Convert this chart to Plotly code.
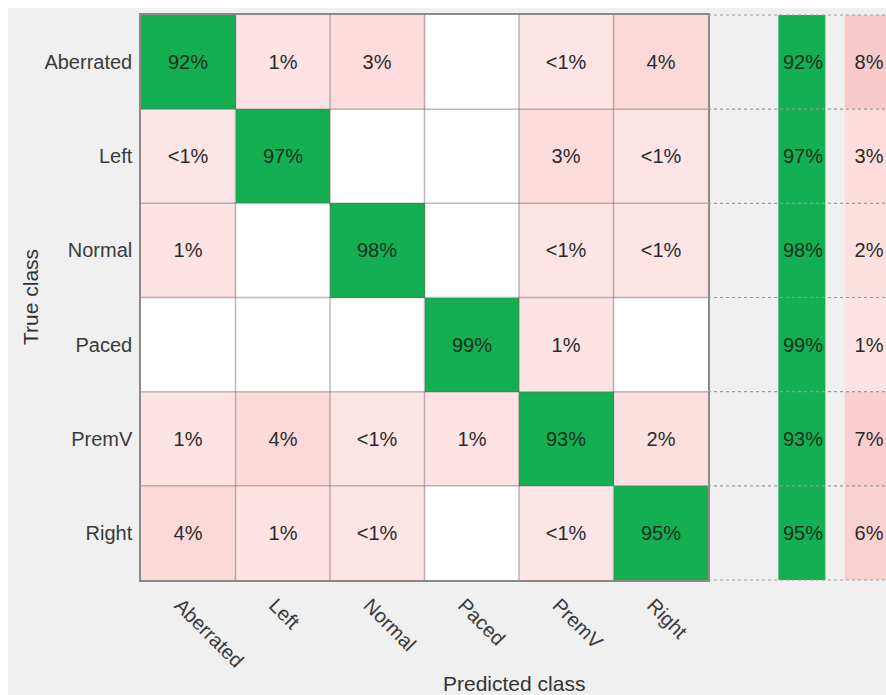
import plotly.graph_objects as go

# ---------------- data ----------------
classes = ["Aberrated", "Left", "Normal", "Paced", "PremV", "Right"]
LT1 = 0.5  # stands for a value shown as "<1%"
# rows = true class, columns = predicted class (percent of row)
pct = [
    [92, 1, 3, 0, LT1, 4],
    [LT1, 97, 0, 0, 3, LT1],
    [1, 0, 98, 0, LT1, LT1],
    [0, 0, 0, 99, 1, 0],
    [1, 4, LT1, 1, 93, 2],
    [4, 1, LT1, 0, LT1, 95],
]
row_correct = [92, 97, 98, 99, 93, 95]
row_incorrect = [8, 3, 2, 1, 7, 6]

# ---------------- style ----------------
W, H = 886, 695
GREEN = "#13AF52"
BG = "#F0F0F0"
FONT = "Liberation Sans, Arial, Helvetica, sans-serif"
pink_scale = [[0, "#ffffff"], [0.0001, "#fde7e7"], [1, "#f9caca"]]
PINK_MAX = 8


def fmt(v):
    if v == 0:
        return ""
    if v < 1:
        return "<1%"
    return f"{v:g}%"


n = len(classes)
idx = list(range(n))

off_z = [[None if i == j else pct[i][j] for j in idx] for i in idx]
off_t = [["" if i == j else fmt(pct[i][j]) for j in idx] for i in idx]
diag_z = [[1 if i == j else None for j in idx] for i in idx]
diag_t = [[fmt(pct[i][j]) if i == j else "" for j in idx] for i in idx]

fig = go.Figure()

fig.add_trace(go.Heatmap(
    z=off_z, x=idx, y=idx, text=off_t, texttemplate="%{text}",
    textfont=dict(size=20, color="#2a2a2a", family=FONT),
    colorscale=pink_scale, zmin=0, zmax=PINK_MAX, showscale=False,
    hoverinfo="skip", xaxis="x", yaxis="y"))
fig.add_trace(go.Heatmap(
    z=diag_z, x=idx, y=idx, text=diag_t, texttemplate="%{text}",
    textfont=dict(size=20, color="#10301c", family=FONT),
    colorscale=[[0, GREEN], [1, GREEN]], zmin=0, zmax=1, showscale=False,
    hoverinfo="skip", xaxis="x", yaxis="y"))

# internal grid lines of the matrix
gx, gy = [], []
for k in range(1, n):
    b = k - 0.5
    gx += [b, b, None, -0.5, n - 0.5, None]
    gy += [-0.5, n - 0.5, None, b, b, None]
fig.add_trace(go.Scatter(x=gx, y=gy, mode="lines",
                         line=dict(color="rgba(110,100,100,0.45)", width=1.5),
                         hoverinfo="skip", showlegend=False, xaxis="x", yaxis="y"))

# row summary (correct / incorrect)
fig.add_trace(go.Heatmap(
    z=[[1] for _ in idx], x=[0], y=idx,
    text=[[f"{v}%"] for v in row_correct], texttemplate="%{text}",
    textfont=dict(size=20, color="#10301c", family=FONT),
    colorscale=[[0, GREEN], [1, GREEN]], zmin=0, zmax=1, showscale=False,
    xgap=19, hoverinfo="skip", xaxis="x2", yaxis="y2"))
fig.add_trace(go.Heatmap(
    z=[[v] for v in row_incorrect], x=[1], y=idx,
    text=[[f"{v}%"] for v in row_incorrect], texttemplate="%{text}",
    textfont=dict(size=20, color="#2a2a2a", family=FONT),
    colorscale=pink_scale, zmin=0, zmax=PINK_MAX, showscale=False,
    xgap=19, hoverinfo="skip", xaxis="x2", yaxis="y2"))

# dotted row separators in summary area
x2_lo, x2_hi = -94.5 / 66.3, 83.5 / 66.3
dx, dy = [], []
for k in range(n + 1):
    b = k - 0.5
    dx += [x2_lo, x2_hi, None]
    dy += [b, b, None]
fig.add_trace(go.Scatter(x=dx, y=dy, mode="lines",
                         line=dict(color="#9a9a9a", width=1.2, dash="dot"),
                         hoverinfo="skip", showlegend=False, xaxis="x2", yaxis="y2"))

# geometry (pixels)
L, R, T, B = 141, 708, 15, 580
u = n / (B - T)  # data units per pixel vertically

fig.update_layout(
    width=W, height=H,
    margin=dict(l=0, r=0, t=0, b=0),
    paper_bgcolor="white", plot_bgcolor=BG,
    font=dict(family=FONT, color="#333333"),
    showlegend=False,
    xaxis=dict(domain=[L / W, R / W], range=[-0.5, n - 0.5],
               tickvals=idx, ticktext=classes, tickangle=45,
               tickfont=dict(size=20, color="#3a3a3a"),
               showgrid=False, zeroline=False, ticks="",
               ticklabelstandoff=4, ticklabelshift=-8,
               showline=True, mirror=True, linecolor="#8a8a8a", linewidth=1.5),
    yaxis=dict(domain=[1 - B / H, 1 - T / H], range=[n - 0.5, -0.5],
               tickvals=idx, ticktext=classes,
               tickfont=dict(size=20, color="#3a3a3a"),
               showgrid=False, zeroline=False, ticks="",
               ticklabelstandoff=3,
               showline=True, mirror=True, linecolor="#8a8a8a", linewidth=1.5),
    xaxis2=dict(domain=[R / W, 1], range=[x2_lo, x2_hi], visible=False,
                anchor="y2"),
    yaxis2=dict(domain=[1 - (B + 2) / H, 1 - (T - 2) / H],
                range=[n - 0.5 + 2 * u, -0.5 - 2 * u], visible=False,
                anchor="x2"),
    shapes=[dict(type="rect", xref="paper", yref="paper", layer="below",
                 x0=8 / W, x1=1, y0=0, y1=1 - 8 / H,
                 fillcolor=BG, line=dict(width=0))],
    annotations=[
        dict(text="Predicted class", xref="paper", yref="paper",
             x=(L + W) / 2 / W, y=1 - 683 / H, showarrow=False,
             font=dict(size=21, color="#333333"), xanchor="center", yanchor="middle"),
        dict(text="True class", xref="paper", yref="paper",
             x=30 / W, y=1 - 297 / H, showarrow=False, textangle=-90,
             font=dict(size=21, color="#333333"), xanchor="center", yanchor="middle"),
    ],
)

fig.write_html("out.html")
